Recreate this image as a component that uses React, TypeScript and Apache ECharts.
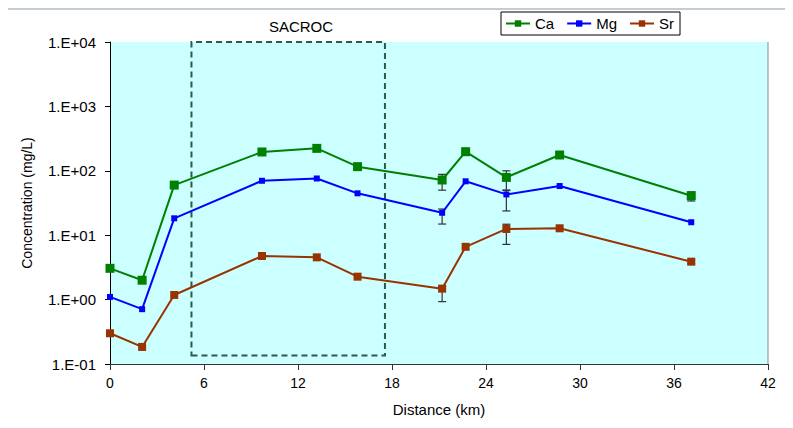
import React, { useEffect, useRef } from "react";
import * as echarts from "echarts";

const distance = [0, 2.05, 4.1, 9.7, 13.2, 15.8, 21.2, 22.7, 25.3, 28.7, 37.1];
const ca = [3.06, 2.0, 60, 196, 223, 116, 72, 198, 79, 176, 41];
const mg = [1.1, 0.71, 18.3, 70, 76, 44.7, 22.3, 68.7, 43, 58, 15.9];
const sr = [0.3, 0.184, 1.18, 4.75, 4.53, 2.27, 1.48, 6.6, 12.5, 12.8, 3.88];

// error bars: [distance, low, high]
const caErr = [[21.2, 50, 88], [25.3, 50, 100], [37.1, 34, 47]];
const mgErr = [[21.2, 14.9, 25.5], [25.3, 23.8, 50]];
const srErr = [[21.2, 0.93, 1.6], [25.3, 7.2, 14.8], [37.1, 3.6, 4.1]];

// study area box: [xMin, yMin, xMax, yMax]
const boxArea = [5.2, 0.135, 17.55, 10000];

const FONT = "Liberation Sans, Arial, sans-serif";

function zip(xs: number[], ys: number[]) {
  return xs.map((x, i) => [x, ys[i]]);
}

function fmtSci(v: number) {
  const e = Math.round(Math.log10(v));
  return "1.E" + (e < 0 ? "-" : "+") + String(Math.abs(e)).padStart(2, "0");
}

function errSeries(data: number[][]) {
  return {
    type: "custom",
    silent: true,
    z: 3,
    encode: { x: 0, y: [1, 2] },
    data,
    renderItem: (params: any, api: any) => {
      const x = api.value(0);
      const lo = api.coord([x, api.value(1)]);
      const hi = api.coord([x, api.value(2)]);
      const w = 4;
      const style = { stroke: "#333", lineWidth: 1.2 };
      return {
        type: "group",
        children: [
          { type: "line", shape: { x1: lo[0], y1: lo[1], x2: hi[0], y2: hi[1] }, style },
          { type: "line", shape: { x1: lo[0] - w, y1: lo[1], x2: lo[0] + w, y2: lo[1] }, style },
          { type: "line", shape: { x1: hi[0] - w, y1: hi[1], x2: hi[0] + w, y2: hi[1] }, style },
        ],
      };
    },
  };
}

export default function App() {
  const ref = useRef<HTMLDivElement>(null);
  useEffect(() => {
    if (!ref.current) return;
    const chart = echarts.init(ref.current, undefined, { renderer: "svg" });
    chart.setOption({
      animation: false,
      backgroundColor: "#ffffff",
      textStyle: { fontFamily: FONT },
      title: {
        text: "SACROC",
        left: 296,
        top: 14,
        textAlign: "center",
        textStyle: { fontFamily: FONT, fontSize: 15, fontWeight: "normal", color: "#000" },
      },
      legend: {
        left: 501,
        top: 12,
        padding: [4, 6, 4, 4],
        itemGap: 12,
        itemWidth: 24,
        itemHeight: 8,
        borderColor: "#000",
        borderWidth: 1,
        backgroundColor: "#fff",
        textStyle: { fontFamily: FONT, fontSize: 15, color: "#000" },
        data: ["Ca", "Mg", "Sr"],
      },
      grid: {
        left: 110,
        right: 25,
        top: 42,
        bottom: 64,
        show: true,
        backgroundColor: "#ccffff",
        borderWidth: 0,
      },
      xAxis: {
        type: "value",
        min: 0,
        max: 42,
        interval: 6,
        name: "Distance (km)",
        nameLocation: "middle",
        nameGap: 38,
        nameTextStyle: { fontFamily: FONT, fontSize: 15, color: "#000" },
        axisLine: { lineStyle: { color: "#333", width: 1 } },
        axisTick: { show: true, length: 6, lineStyle: { color: "#333" } },
        axisLabel: { fontFamily: FONT, fontSize: 14, color: "#000", margin: 12 },
        splitLine: { show: false },
      },
      yAxis: {
        type: "log",
        logBase: 10,
        min: 0.1,
        max: 10000,
        name: "Concentration (mg/L)",
        nameLocation: "middle",
        nameGap: 76,
        nameTextStyle: { fontFamily: FONT, fontSize: 14, color: "#000" },
        axisLine: { show: true, lineStyle: { color: "#000", width: 1 } },
        axisTick: { show: true, length: 5, lineStyle: { color: "#000" } },
        axisLabel: { fontFamily: FONT, fontSize: 15, color: "#000", margin: 14, formatter: fmtSci },
        splitLine: { show: false },
        minorTick: { show: false },
      },
      graphic: [
        { type: "rect", shape: { x: 5, y: 6, width: 788, height: 2 }, style: { fill: "#8c98a4" } },
        { type: "rect", shape: { x: 5, y: 8, width: 788, height: 2 }, style: { fill: "#c4ccd4" } },
        { type: "line", shape: { x1: 768, y1: 42, x2: 768, y2: 364 }, style: { stroke: "#8a8a8a", lineWidth: 1 } },
      ],
      series: [
        {
          name: "Ca",
          type: "line",
          data: zip(distance, ca),
          symbol: "rect",
          symbolSize: 9,
          color: "#008000",
          lineStyle: { width: 2, color: "#008000" },
          itemStyle: { color: "#008000" },
          z: 4,
          markArea: {
            silent: true,
            itemStyle: {
              color: "rgba(0,0,0,0)",
              borderColor: "#2e5a48",
              borderWidth: 2,
              borderType: [6, 4],
            },
            data: [
              [
                { xAxis: boxArea[0], yAxis: boxArea[1] },
                { xAxis: boxArea[2], yAxis: boxArea[3] },
              ],
            ],
          },
        },
        {
          name: "Mg",
          type: "line",
          data: zip(distance, mg),
          symbol: "rect",
          symbolSize: 6,
          color: "#0000ff",
          lineStyle: { width: 2, color: "#0000ff" },
          itemStyle: { color: "#0000ff" },
          z: 4,
        },
        {
          name: "Sr",
          type: "line",
          data: zip(distance, sr),
          symbol: "rect",
          symbolSize: 8,
          color: "#993300",
          lineStyle: { width: 2, color: "#993300" },
          itemStyle: { color: "#993300" },
          z: 4,
        },
        errSeries(caErr),
        errSeries(mgErr),
        errSeries(srErr),
      ],
    });
    return () => chart.dispose();
  }, []);
  return <div ref={ref} style={{ width: 793, height: 428, margin: -8 }} />;
}
